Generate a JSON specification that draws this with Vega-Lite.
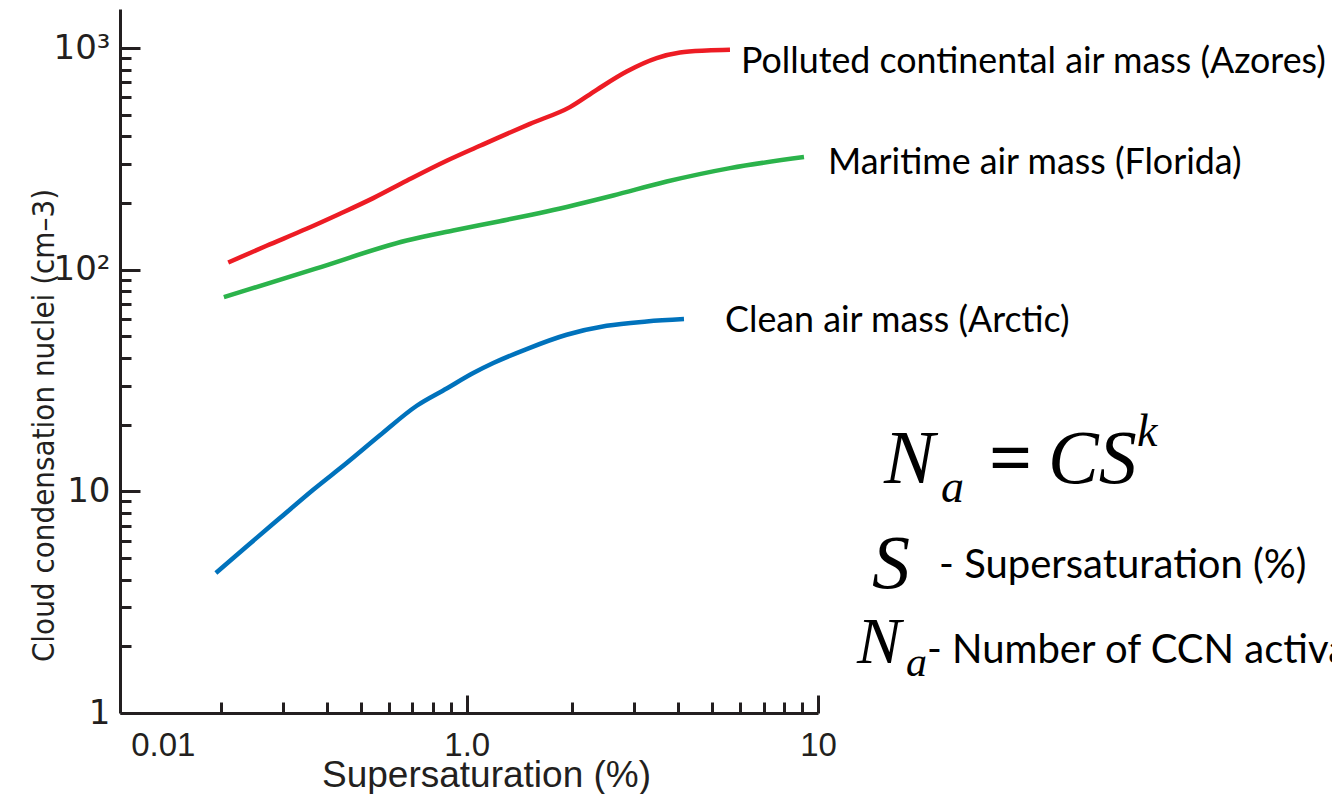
{
  "$schema": "https://vega.github.io/schema/vega-lite/v6.json",
  "width": 698,
  "height": 704,
  "autosize": {"type": "none"},
  "padding": {"left": 120, "top": 9, "right": 514, "bottom": 81},
  "background": "white",
  "config": {"view": {"stroke": null}},
  "encoding": {
    "x": {
      "field": "S",
      "type": "quantitative",
      "scale": {"type": "log", "domain": [0.103, 10], "nice": false},
      "axis": {
        "title": "Supersaturation (%)",
        "titleFont": "Liberation Sans",
        "titleFontSize": 37,
        "titleFontWeight": "normal",
        "titleColor": "#231f20",
        "titleBaseline": "alphabetic",
        "titleX": 366,
        "titleY": 73,
        "values": [0.1364, 0.2, 0.3, 0.4, 0.5, 0.6, 0.7, 0.8, 0.9, 1, 2, 3, 4, 5, 6, 7, 8, 9, 10],
        "labelExpr": "datum.value < 0.15 ? '0.01' : datum.value == 1 ? '1.0' : datum.value == 10 ? '10' : ''",
        "labelFont": "Liberation Sans",
        "labelFontSize": 33,
        "labelColor": "#231f20",
        "labelOverlap": false,
        "labelFlush": false,
        "labelBound": false,
        "labelPadding": 34,
        "domainColor": "#231f20",
        "domainWidth": 3,
        "tickColor": "#231f20",
        "tickWidth": 3,
        "tickSize": {"condition": {"test": "datum.value == 1 || datum.value == 10 || datum.value < 0.15", "value": -18}, "value": -11},
        "tickOpacity": {"condition": {"test": "datum.value < 0.15", "value": 0}, "value": 1},
        "grid": false
      }
    },
    "y": {
      "field": "N",
      "type": "quantitative",
      "scale": {"type": "log", "domain": [1, 1500], "nice": false},
      "axis": {
        "title": "Cloud condensation nuclei (cm–3)",
        "titleFont": "DejaVu Sans Condensed",
        "titleFontSize": 31,
        "titleFontWeight": "normal",
        "titleColor": "#231f20",
        "titleBaseline": "alphabetic",
        "titleAngle": -90,
        "titleX": -67,
        "titleY": 416,
        "values": [1, 2, 3, 4, 5, 6, 7, 8, 9, 10, 20, 30, 40, 50, 60, 70, 80, 90, 100, 200, 300, 400, 500, 600, 700, 800, 900, 1000],
        "labelExpr": "datum.value == 1 ? '1' : datum.value == 10 ? '10' : datum.value == 100 ? '10²' : datum.value == 1000 ? '10³' : ''",
        "labelFont": "DejaVu Sans",
        "labelFontSize": 34,
        "labelColor": "#231f20",
        "labelOverlap": false,
        "labelFlush": false,
        "labelBound": false,
        "labelPadding": 30,
        "domainColor": "#231f20",
        "domainWidth": 3,
        "tickColor": "#231f20",
        "tickWidth": 3,
        "tickSize": {"condition": {"test": "datum.value == 1 || datum.value == 10 || datum.value == 100 || datum.value == 1000", "value": -20}, "value": -11},
        "grid": false
      }
    }
  },
  "layer": [
    {
      "data": {"values": [
        {"mass": "Polluted continental", "S": 0.2094, "N": 107.8},
        {"mass": "Polluted continental", "S": 0.2692, "N": 128.2},
        {"mass": "Polluted continental", "S": 0.35, "N": 152.9},
        {"mass": "Polluted continental", "S": 0.4355, "N": 178.8},
        {"mass": "Polluted continental", "S": 0.5417, "N": 210.3},
        {"mass": "Polluted continental", "S": 0.6745, "N": 251.8},
        {"mass": "Polluted continental", "S": 0.8766, "N": 309.9},
        {"mass": "Polluted continental", "S": 1.0904, "N": 362.2},
        {"mass": "Polluted continental", "S": 1.2166, "N": 391.4},
        {"mass": "Polluted continental", "S": 1.5135, "N": 455.1},
        {"mass": "Polluted continental", "S": 1.967, "N": 541.3},
        {"mass": "Polluted continental", "S": 2.344, "N": 647.9},
        {"mass": "Polluted continental", "S": 2.853, "N": 783.4},
        {"mass": "Polluted continental", "S": 3.473, "N": 900.5},
        {"mass": "Polluted continental", "S": 4.047, "N": 954.3},
        {"mass": "Polluted continental", "S": 4.822, "N": 974.3},
        {"mass": "Polluted continental", "S": 5.616, "N": 981.5},
        {"mass": "Maritime", "S": 0.2035, "N": 75.2},
        {"mass": "Maritime", "S": 0.3696, "N": 100.8},
        {"mass": "Maritime", "S": 0.6745, "N": 135.4},
        {"mass": "Maritime", "S": 0.9153, "N": 150.2},
        {"mass": "Maritime", "S": 1.243, "N": 165.5},
        {"mass": "Maritime", "S": 1.689, "N": 183.0},
        {"mass": "Maritime", "S": 2.613, "N": 216.1},
        {"mass": "Maritime", "S": 3.709, "N": 249.9},
        {"mass": "Maritime", "S": 5.616, "N": 287.3},
        {"mass": "Maritime", "S": 9.123, "N": 322.1},
        {"mass": "Clean", "S": 0.1931, "N": 4.28},
        {"mass": "Clean", "S": 0.2362, "N": 5.642},
        {"mass": "Clean", "S": 0.2938, "N": 7.577},
        {"mass": "Clean", "S": 0.3655, "N": 10.17},
        {"mass": "Clean", "S": 0.455, "N": 13.42},
        {"mass": "Clean", "S": 0.566, "N": 17.9},
        {"mass": "Clean", "S": 0.7205, "N": 24.33},
        {"mass": "Clean", "S": 0.8766, "N": 29.1},
        {"mass": "Clean", "S": 1.0435, "N": 34.17},
        {"mass": "Clean", "S": 1.19, "N": 37.91},
        {"mass": "Clean", "S": 1.481, "N": 43.85},
        {"mass": "Clean", "S": 1.925, "N": 50.86},
        {"mass": "Clean", "S": 2.502, "N": 55.85},
        {"mass": "Clean", "S": 3.252, "N": 58.4},
        {"mass": "Clean", "S": 4.154, "N": 59.87}
      ]},
      "mark": {"type": "line", "strokeWidth": 4.5, "interpolate": "monotone", "strokeCap": "butt"},
      "encoding": {
        "color": {
          "field": "mass",
          "type": "nominal",
          "scale": {"domain": ["Polluted continental", "Maritime", "Clean"], "range": ["#ed1c24", "#2bb34b", "#0072bc"]},
          "legend": null
        }
      }
    },
    {
      "data": {"values": [
        {"S": 6.035, "N": 775.5, "label": "Polluted continental air mass (Azores)"},
        {"S": 10.68, "N": 270.8, "label": "Maritime air mass (Florida)"},
        {"S": 5.436, "N": 52.48, "label": "Clean air mass (Arctic)"}
      ]},
      "mark": {"type": "text", "font": "Lato", "fontSize": 35.8, "align": "left", "baseline": "alphabetic", "color": "#000000"},
      "encoding": {"text": {"field": "label"}}
    },
    {
      "data": {"values": [
        {"S": 22.11, "N": 4.063, "label": "- Supersaturation (%)"},
        {"S": 20.43, "N": 1.681, "label": "- Number of CCN activated"}
      ]},
      "mark": {"type": "text", "font": "Lato", "fontSize": 40, "align": "left", "baseline": "alphabetic", "color": "#000000"},
      "encoding": {"text": {"field": "label"}}
    },
    {
      "data": {"values": [
        {"S": 15.41, "N": 10.9, "label": "N"},
        {"S": 45.17, "N": 10.9, "label": "CS"},
        {"S": 14.25, "N": 3.664, "label": "S"}
      ]},
      "mark": {"type": "text", "font": "Liberation Serif", "fontStyle": "italic", "fontSize": 76, "align": "left", "baseline": "alphabetic", "color": "#000000"},
      "encoding": {"text": {"field": "label"}}
    },
    {
      "data": {"values": [
        {"S": 30.69, "N": 10.9, "label": "="}
      ]},
      "mark": {"type": "text", "font": "Liberation Serif", "fontWeight": "bold", "fontSize": 76, "align": "left", "baseline": "alphabetic", "color": "#000000"},
      "encoding": {"text": {"field": "label"}}
    },
    {
      "data": {"values": [
        {"S": 12.91, "N": 1.681, "label": "N"}
      ]},
      "mark": {"type": "text", "font": "Liberation Serif", "fontStyle": "italic", "fontSize": 66, "align": "left", "baseline": "alphabetic", "color": "#000000"},
      "encoding": {"text": {"field": "label"}}
    },
    {
      "data": {"values": [
        {"S": 22.4, "N": 8.979, "label": "a"},
        {"S": 81.0, "N": 15.94, "label": "k"}
      ]},
      "mark": {"type": "text", "font": "Liberation Serif", "fontStyle": "italic", "fontSize": 46, "align": "left", "baseline": "alphabetic", "color": "#000000"},
      "encoding": {"text": {"field": "label"}}
    },
    {
      "data": {"values": [
        {"S": 17.81, "N": 1.463, "label": "a"}
      ]},
      "mark": {"type": "text", "font": "Liberation Serif", "fontStyle": "italic", "fontSize": 42, "align": "left", "baseline": "alphabetic", "color": "#000000"},
      "encoding": {"text": {"field": "label"}}
    }
  ]
}
